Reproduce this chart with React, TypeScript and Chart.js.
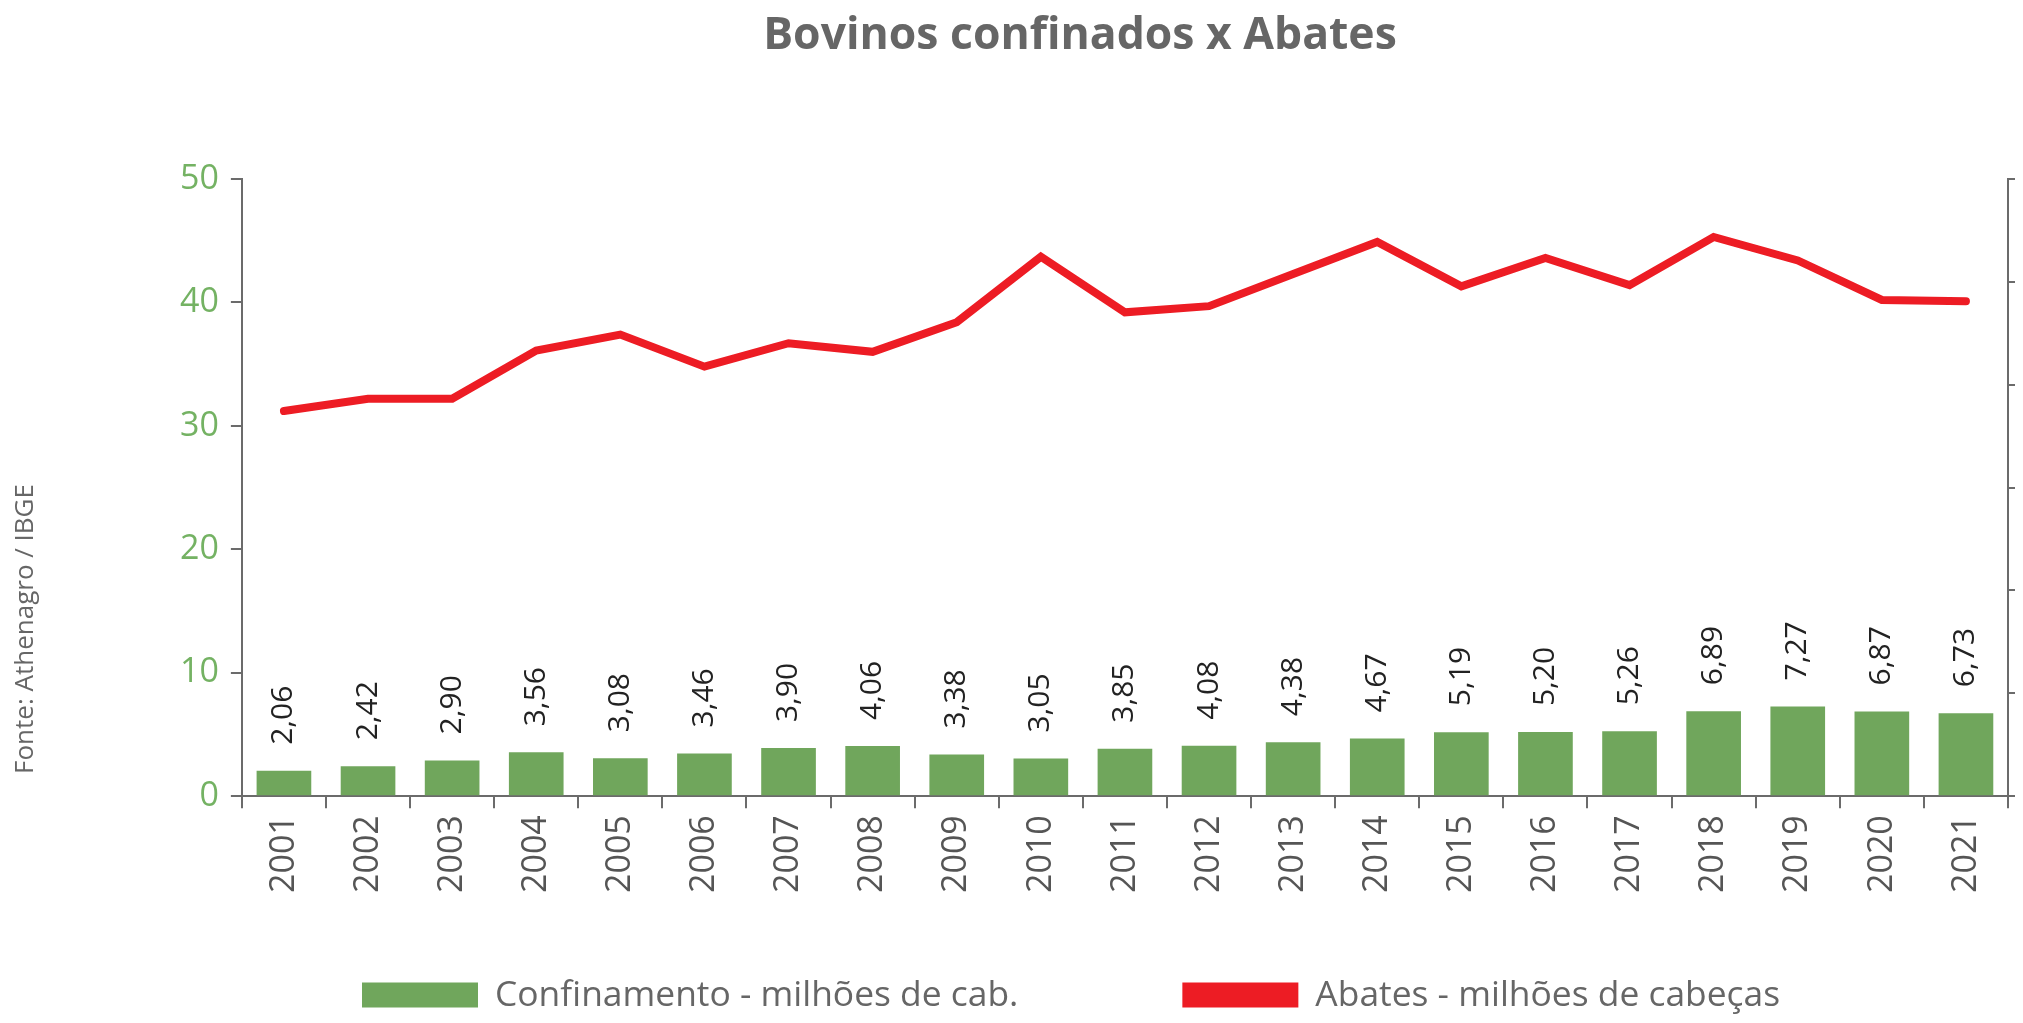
import React, { useEffect, useRef } from 'react';
import { Chart, registerables } from 'chart.js';

Chart.register(...registerables);

// ---- data ----
const years = ['2001', '2002', '2003', '2004', '2005', '2006', '2007', '2008', '2009', '2010', '2011', '2012', '2013', '2014', '2015', '2016', '2017', '2018', '2019', '2020', '2021'];
const confinamento = [2.06, 2.42, 2.90, 3.56, 3.08, 3.46, 3.90, 4.06, 3.38, 3.05, 3.85, 4.08, 4.38, 4.67, 5.19, 5.20, 5.26, 6.89, 7.27, 6.87, 6.73];
const abates = [31.2, 32.2, 32.2, 36.1, 37.4, 34.8, 36.7, 36.0, 38.4, 43.7, 39.2, 39.7, 42.3, 44.9, 41.3, 43.6, 41.4, 45.3, 43.4, 40.2, 40.1];
const seriesNames = ['Confinamento - milhões de cab.', 'Abates - milhões de cabeças'];
const titleText = 'Bovinos confinados x Abates';
const sourceText = 'Fonte: Athenagro / IBGE';
const leftAxis = { min: 0, max: 50, step: 10 };
const rightAxis = { min: 0, max: 60, step: 10 };

// ---- styles ----
const FONT = '"Open Sans", "Liberation Sans", "DejaVu Sans", sans-serif';
const GREEN = '#70a65c';
const GREEN_TICK = '#74b263';
const RED = '#ed1c24';
const AXIS = '#6b6b6b';

const titlePlugin = {
  id: 'customTitle',
  afterDraw(chart: any) {
    const ctx = chart.ctx;
    ctx.save();
    ctx.font = `bold 44.5px ${FONT}`;
    ctx.fillStyle = '#666666';
    ctx.textAlign = 'center';
    ctx.textBaseline = 'middle';
    ctx.fillText(titleText, 1072, 28);
    ctx.restore();
  },
};

const barLabelPlugin = {
  id: 'barValueLabels',
  afterDatasetsDraw(chart: any) {
    const ctx = chart.ctx;
    chart.data.datasets.forEach((ds: any, i: number) => {
      if (ds.type !== 'bar') return;
      const meta = chart.getDatasetMeta(i);
      meta.data.forEach((el: any, j: number) => {
        const v = ds.data[j] as number;
        ctx.save();
        ctx.translate(el.x, el.y - 26);
        ctx.rotate(-Math.PI / 2);
        ctx.font = `30px ${FONT}`;
        ctx.fillStyle = '#222222';
        ctx.textAlign = 'left';
        ctx.textBaseline = 'middle';
        ctx.fillText(v.toFixed(2).replace('.', ','), 0, 0);
        ctx.restore();
      });
    });
  },
};

const sourcePlugin = {
  id: 'sourceText',
  afterDraw(chart: any) {
    const ctx = chart.ctx;
    ctx.save();
    ctx.translate(18, 621);
    ctx.rotate(-Math.PI / 2);
    ctx.font = `26px ${FONT}`;
    ctx.fillStyle = '#666666';
    ctx.textAlign = 'center';
    ctx.textBaseline = 'middle';
    ctx.fillText(sourceText, 0, 0);
    ctx.restore();
  },
};

const legendPlugin = {
  id: 'bottomLegend',
  afterDraw(chart: any) {
    const ctx = chart.ctx;
    const yc = 987;
    const boxW = 116;
    const boxH = 25;
    const textGap = 17;
    const itemGap = 164;
    let x = 354;
    ctx.save();
    ctx.font = `35.4px ${FONT}`;
    ctx.textBaseline = 'middle';
    ctx.textAlign = 'left';
    chart.data.datasets.forEach((ds: any) => {
      ctx.fillStyle = ds.legendColor;
      ctx.fillRect(x, yc - boxH / 2, boxW, boxH);
      x += boxW + textGap;
      ctx.fillStyle = '#666666';
      ctx.fillText(ds.label, x, yc + 1);
      x += ctx.measureText(ds.label).width + itemGap;
    });
    ctx.restore();
  },
};

export default function App() {
  const ref = useRef<HTMLCanvasElement | null>(null);

  useEffect(() => {
    if (!ref.current) return;
    const chart = new Chart(ref.current, {
      data: {
        labels: years,
        datasets: [
          {
            type: 'bar' as const,
            label: seriesNames[0],
            data: confinamento,
            backgroundColor: GREEN,
            legendColor: GREEN,
            barPercentage: 0.65,
            categoryPercentage: 1,
            yAxisID: 'y',
            order: 1,
          } as any,
          {
            type: 'line' as const,
            label: seriesNames[1],
            data: abates,
            borderColor: RED,
            backgroundColor: RED,
            legendColor: RED,
            borderWidth: 8,
            pointRadius: 0,
            tension: 0,
            borderCapStyle: 'round',
            borderJoinStyle: 'miter',
            yAxisID: 'y',
            order: 0,
          } as any,
        ],
      },
      options: {
        animation: false,
        responsive: true,
        maintainAspectRatio: false,
        layout: { padding: { left: 160, right: 0, top: 171, bottom: 115 } },
        plugins: {
          legend: { display: false },
          tooltip: { enabled: false },
          title: { display: false },
        },
        scales: {
          x: {
            type: 'category',
            grid: { display: true, drawOnChartArea: false, drawTicks: true, tickLength: 12, color: AXIS, lineWidth: 2, offset: true },
            border: { display: true, color: AXIS, width: 2 },
            ticks: { minRotation: 90, maxRotation: 90, autoSkip: false, padding: 7, color: '#555555', font: { family: FONT, size: 34 } },
          },
          y: {
            position: 'left',
            min: leftAxis.min,
            max: leftAxis.max,
            ticks: { stepSize: leftAxis.step, padding: 12, color: GREEN_TICK, font: { family: FONT, size: 34 } },
            grid: { drawOnChartArea: false, drawTicks: true, tickLength: 11, color: AXIS, lineWidth: 2 },
            border: { display: true, color: AXIS, width: 2 },
          },
          y1: {
            position: 'right',
            min: rightAxis.min,
            max: rightAxis.max,
            ticks: { stepSize: rightAxis.step, display: false },
            grid: { drawOnChartArea: false, drawTicks: true, tickLength: 7, color: AXIS, lineWidth: 2 },
            border: { display: true, color: AXIS, width: 2 },
          },
        },
      } as any,
      plugins: [barLabelPlugin, sourcePlugin, legendPlugin, titlePlugin],
    });
    return () => chart.destroy();
  }, []);

  return (
    <div style={{ width: 2007, height: 1007, position: 'relative', background: '#ffffff' }}>
      <canvas ref={ref} />
    </div>
  );
}
